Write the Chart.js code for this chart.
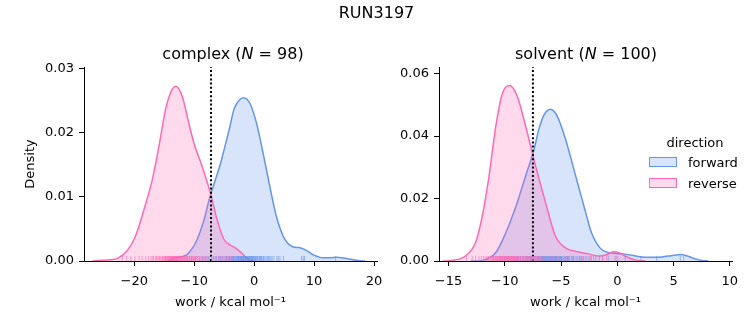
<!DOCTYPE html>
<html>
<head>
<meta charset="utf-8">
<script src="https://cdn.jsdelivr.net/npm/chart.js@4.4.1/dist/chart.umd.min.js"></script>
<style>
  html, body { margin: 0; padding: 0; background: #fff; }
  #fig { position: relative; width: 753px; height: 325px; overflow: hidden;
         font-family: "DejaVu Sans", sans-serif; color: #000; }
  #fig canvas { position: absolute; left: 0; top: 0; }
  .txt { position: absolute; white-space: nowrap; }
  .ttl { font-size: 16px; line-height: 16px; transform: translateX(-50%); }
  .leg { font-size: 13px; line-height: 13px; }
  .patch { position: absolute; width: 26px; height: 8px; border: 1px solid; }
</style>
</head>
<body>
<div id="fig">
  <canvas id="complexCanvas" width="753" height="325"></canvas>
  <canvas id="solventCanvas" width="753" height="325"></canvas>
  <div class="txt ttl" style="left:376.5px; top:5px;">RUN3197</div>
  <div class="txt ttl" style="left:233px; top:46px;">complex (<i>N</i> = 98)</div>
  <div class="txt ttl" style="left:586px; top:46px;">solvent (<i>N</i> = 100)</div>
  <div class="txt leg" style="left:695px; top:135.5px; transform:translateX(-50%);">direction</div>
  <div class="patch" style="left:649px; top:157px; border-color:#6495ED; background:rgba(100,149,237,0.25);"></div>
  <div class="txt leg" style="left:688px; top:155.5px;">forward</div>
  <div class="patch" style="left:649px; top:178px; border-color:#FF69B4; background:rgba(255,105,180,0.25);"></div>
  <div class="txt leg" style="left:688px; top:176.5px;">reverse</div>
</div>
<script>
// ---- density curves (work in kcal/mol, density) ----
const complexForwardX = [-14.5, -13.4, -12.0, -11.2, -10.3, -9.5, -8.5, -7.3, -6.5, -5.6, -4.5, -4.05, -3.4, -2.9, -1.8, -0.7, 0.4, 1.5, 2.6, 3.7, 5.1, 6.5, 7.4, 8.2, 9.0, 9.8, 11.5, 12.6, 13.7, 15.4, 17.6, 18.5];
const complexForwardY = [0.0, 0.0004, 0.0007, 0.0010, 0.0020, 0.0034, 0.0060, 0.0103, 0.0126, 0.0153, 0.0193, 0.0210, 0.0236, 0.0246, 0.0255, 0.0246, 0.0215, 0.0168, 0.0117, 0.0070, 0.0034, 0.0022, 0.0021, 0.0019, 0.0015, 0.0010, 0.0005, 0.0005, 0.0006, 0.0004, 0.00005, 0.0];

const complexReverseX = [-27.0, -25.5, -24.0, -22.8, -21.2, -19.8, -18.4, -17.0, -15.9, -14.8, -13.9, -13.1, -12.0, -10.9, -10.05, -8.7, -7.3, -6.2, -5.05, -4.0, -3.2, -2.4, -1.5, -1.0, 0.0];
const complexReverseY = [0.0, 0.0001, 0.0002, 0.0004, 0.0016, 0.0039, 0.0080, 0.0127, 0.0179, 0.0236, 0.0264, 0.0273, 0.0257, 0.0215, 0.0184, 0.0148, 0.0106, 0.0065, 0.0034, 0.0025, 0.0021, 0.0015, 0.0007, 0.0003, 0.0];

const solventForwardX = [-13.0, -12.0, -10.8, -9.9, -9.0, -8.15, -7.4, -6.97, -6.52, -5.95, -5.34, -4.6, -3.7, -2.8, -2.3, -1.54, -0.8, -0.1, 0.7, 2.2, 3.0, 3.95, 4.8, 5.6, 6.3, 6.9, 7.5, 8.1];
const solventForwardY = [0.0, 0.0002, 0.0027, 0.0091, 0.0176, 0.0272, 0.0357, 0.0422, 0.0467, 0.0486, 0.0464, 0.0390, 0.0272, 0.0154, 0.0091, 0.0042, 0.0027, 0.0024, 0.0022, 0.0013, 0.0012, 0.0013, 0.0017, 0.0021, 0.0015, 0.0007, 0.0002, 0.0];

const solventReverseX = [-15.5, -14.7, -13.5, -12.6, -12.0, -11.4, -10.8, -10.2, -9.57, -8.9, -8.15, -7.26, -6.37, -5.5, -4.6, -3.4, -2.5, -1.7, -0.9, -0.35, 0.2, 0.7, 1.6, 2.5];
const solventReverseY = [0.0, 0.0002, 0.0016, 0.0059, 0.0144, 0.0272, 0.0432, 0.0538, 0.0562, 0.0528, 0.0432, 0.0304, 0.0186, 0.0080, 0.0042, 0.0029, 0.0022, 0.0016, 0.0021, 0.0030, 0.0026, 0.0016, 0.0003, 0.0];

// ---- individual work values (rug) ----
const complexForwardWork = [
  -11.2, -10.5, -9.8, -9.1, -8.6, -8.0, -7.6, -7.1, -6.8, -6.5,
  -6.3, -6.0, -5.8, -5.6, -5.4, -5.2, -5.0, -4.8, -4.6, -4.5,
  -4.3, -4.1, -4.0, -3.8, -3.7, -3.6, -3.5, -3.4, -3.3, -3.1,
  -3.0, -2.9, -2.8, -2.7, -2.65, -2.6, -2.5, -2.4, -2.3, -2.2,
  -2.15, -2.1, -2.0, -1.9, -1.85, -1.8, -1.7, -1.6, -1.5, -1.45,
  -1.4, -1.3, -1.2, -1.1, -1.05, -1.0, -0.9, -0.8, -0.75, -0.7,
  -0.6, -0.5, -0.4, -0.35, -0.3, -0.2, -0.1, 0.0, 0.1, 0.2,
  0.3, 0.45, 0.5, 0.6, 0.8, 0.9, 1.0, 1.1, 1.2, 1.3,
  1.5, 1.6, 1.8, 2.0, 2.2, 2.4, 2.6, 2.8, 3.0, 3.3,
  3.8, 4.0, 4.3, 4.9, 7.9, 8.2, 8.4, 13.6
];
const complexReverseWork = [
  -22.0, -21.3, -20.6, -19.9, -19.2, -18.7, -18.1, -17.6, -17.2, -17.0,
  -16.8, -16.5, -16.3, -16.1, -15.9, -15.8, -15.6, -15.4, -15.3, -15.1,
  -15.0, -14.9, -14.8, -14.7, -14.6, -14.5, -14.4, -14.3, -14.2, -14.1,
  -14.0, -13.95, -13.9, -13.8, -13.7, -13.65, -13.6, -13.55, -13.5, -13.4,
  -13.35, -13.3, -13.25, -13.2, -13.1, -13.05, -13.0, -12.95, -12.9, -12.8,
  -12.75, -12.7, -12.6, -12.5, -12.45, -12.4, -12.3, -12.2, -12.1, -12.0,
  -11.95, -11.8, -11.7, -11.6, -11.5, -11.4, -11.3, -11.2, -11.1, -10.9,
  -10.8, -10.7, -10.5, -10.4, -10.3, -10.1, -10.0, -9.9, -9.7, -9.5,
  -9.4, -9.2, -8.9, -8.7, -8.4, -8.3, -8.1, -7.8, -7.5, -7.1,
  -6.8, -6.4, -5.9, -5.3, -4.6, -4.2, -3.9, -3.5
];
const solventForwardWork = [
  -11.0, -10.4, -10.0, -9.7, -9.4, -9.2, -9.0, -8.9, -8.8, -8.6,
  -8.4, -8.3, -8.2, -8.1, -8.0, -7.9, -7.8, -7.7, -7.65, -7.6,
  -7.5, -7.4, -7.3, -7.2, -7.1, -7.05, -7.0, -6.95, -6.9, -6.8,
  -6.75, -6.7, -6.65, -6.6, -6.55, -6.5, -6.45, -6.4, -6.35, -6.3,
  -6.25, -6.2, -6.15, -6.1, -6.05, -6.0, -5.95, -5.9, -5.85, -5.8,
  -5.75, -5.7, -5.65, -5.6, -5.55, -5.5, -5.45, -5.4, -5.35, -5.3,
  -5.2, -5.15, -5.1, -5.05, -5.0, -4.95, -4.9, -4.8, -4.7, -4.6,
  -4.55, -4.45, -4.4, -4.35, -4.25, -4.1, -4.0, -3.9, -3.75, -3.6,
  -3.5, -3.35, -3.3, -3.2, -3.0, -2.85, -2.7, -2.5, -2.3, -2.1,
  -1.9, -1.6, -1.3, -0.8, -0.1, 0.7, 2.1, 3.5, 5.6, 5.9
];
const solventReverseWork = [
  -13.4, -12.9, -12.6, -12.3, -12.1, -11.9, -11.75, -11.6, -11.5, -11.45,
  -11.3, -11.2, -11.1, -11.0, -10.9, -10.85, -10.8, -10.75, -10.7, -10.65,
  -10.6, -10.55, -10.5, -10.45, -10.4, -10.35, -10.3, -10.25, -10.2, -10.2,
  -10.15, -10.1, -10.05, -10.0, -9.95, -9.9, -9.85, -9.8, -9.75, -9.75,
  -9.7, -9.65, -9.65, -9.6, -9.55, -9.5, -9.45, -9.4, -9.35, -9.3,
  -9.3, -9.25, -9.2, -9.15, -9.1, -9.05, -9.0, -8.95, -8.9, -8.85,
  -8.8, -8.75, -8.7, -8.6, -8.5, -8.45, -8.4, -8.3, -8.2, -8.1,
  -8.05, -8.0, -7.9, -7.8, -7.7, -7.65, -7.6, -7.5, -7.4, -7.35,
  -7.3, -7.2, -7.0, -6.9, -6.8, -6.6, -6.4, -6.2, -6.0, -5.8,
  -5.5, -5.2, -4.5, -3.9, -3.1, -2.4, -1.3, -0.95, -0.2, 0.06
];

// ---- reference free energy marks (dotted lines) ----
const complexMarker = -7.2;
const solventMarker = -7.5;

// ---- axis ticks and limits ----
const complexXTicks = [-20, -10, 0, 10, 20];
const complexYTicks = [0, 0.01, 0.02, 0.03];
const solventXTicks = [-15, -10, -5, 0, 5, 10];
const solventYTicks = [0, 0.02, 0.04, 0.06];
const complexXRange = [-28.4, 20.5];
const complexYMax = 0.0303;
const solventXRange = [-15.85, 10.2];
const solventYMax = 0.0621;

const FWD = '#6495ED', REV = '#FF69B4';
const FWD_FILL = 'rgba(100,149,237,0.25)', REV_FILL = 'rgba(255,105,180,0.25)';
const FWD_RUG = 'rgba(100,149,237,0.6)', REV_RUG = 'rgba(255,105,180,0.6)';
const FONT = { family: '"DejaVu Sans", sans-serif', size: 13 };

const toPoints = (xs, ys) => xs.map((x, i) => ({ x: x, y: ys[i] }));
const minusSign = v => String(v).replace('-', '\u2212');

// short vertical ticks along the x axis for each work value
const rugPlugin = {
  id: 'rug',
  afterDatasetsDraw(chart, args, opts) {
    const ctx = chart.ctx, xs = chart.scales.x, bottom = chart.chartArea.bottom;
    ctx.save();
    ctx.lineWidth = 1;
    opts.sets.forEach(set => {
      ctx.strokeStyle = set.color;
      set.values.forEach(v => {
        const px = xs.getPixelForValue(v);
        ctx.beginPath();
        ctx.moveTo(px, bottom);
        ctx.lineTo(px, bottom - 5);
        ctx.stroke();
      });
    });
    ctx.restore();
  }
};

function makePanel(id, cfg) {
  const axisCommon = {
    border: { display: true, color: '#000', width: 1 },
    grid: { display: true, drawOnChartArea: false, drawTicks: true, tickLength: 5, color: '#000', lineWidth: 1 }
  };
  return new Chart(document.getElementById(id), {
    type: 'line',
    data: {
      datasets: [
        { data: [{ x: cfg.marker, y: 0 }, { x: cfg.marker, y: cfg.yMax }],
          borderColor: '#000', borderWidth: 2, borderDash: [2, 2.2], pointRadius: 0, fill: false },
        { data: toPoints(cfg.revX, cfg.revY), borderColor: REV, backgroundColor: REV_FILL,
          borderWidth: 1.5, pointRadius: 0, fill: 'origin', cubicInterpolationMode: 'monotone' },
        { data: toPoints(cfg.fwdX, cfg.fwdY), borderColor: FWD, backgroundColor: FWD_FILL,
          borderWidth: 1.5, pointRadius: 0, fill: 'origin', cubicInterpolationMode: 'monotone' }
      ]
    },
    options: {
      responsive: false,
      animation: false,
      devicePixelRatio: 1,
      layout: { padding: cfg.padding },
      plugins: {
        legend: { display: false },
        tooltip: { enabled: false },
        rug: { sets: [{ values: cfg.fwdWork, color: FWD_RUG }, { values: cfg.revWork, color: REV_RUG }] }
      },
      scales: {
        x: Object.assign({}, axisCommon, {
          type: 'linear', position: 'bottom',
          min: cfg.xRange[0], max: cfg.xRange[1],
          afterBuildTicks: s => { s.ticks = cfg.xTicks.map(v => ({ value: v })); },
          afterFit: s => { s.height = 64; },
          ticks: { font: FONT, color: '#000', padding: 8, maxRotation: 0, autoSkip: false,
                   callback: v => minusSign(v) },
          title: { display: true, text: 'work / kcal mol\u207B\u00B9', font: FONT, color: '#000',
                   padding: { top: 0, bottom: 15 } }
        }),
        y: Object.assign({}, axisCommon, {
          type: 'linear', position: 'left',
          min: 0, max: cfg.yMax,
          afterBuildTicks: s => { s.ticks = cfg.yTicks.map(v => ({ value: v })); },
          afterFit: s => { s.width = cfg.yWidth; },
          ticks: { font: FONT, color: '#000', padding: 5, autoSkip: false,
                   callback: v => v.toFixed(2) },
          title: { display: cfg.yTitle, text: 'Density', font: FONT, color: '#000',
                   padding: { top: 23, bottom: 0 } }
        })
      }
    },
    plugins: [rugPlugin]
  });
}

makePanel('complexCanvas', {
  fwdX: complexForwardX, fwdY: complexForwardY, revX: complexReverseX, revY: complexReverseY,
  fwdWork: complexForwardWork, revWork: complexReverseWork, marker: complexMarker,
  xTicks: complexXTicks, yTicks: complexYTicks, xRange: complexXRange, yMax: complexYMax,
  yWidth: 84, yTitle: true,
  padding: { left: 0, right: 753 - 377, top: 67, bottom: 0 }
});

makePanel('solventCanvas', {
  fwdX: solventForwardX, fwdY: solventForwardY, revX: solventReverseX, revY: solventReverseY,
  fwdWork: solventForwardWork, revWork: solventReverseWork, marker: solventMarker,
  xTicks: solventXTicks, yTicks: solventYTicks, xRange: solventXRange, yMax: solventYMax,
  yWidth: 50, yTitle: false,
  padding: { left: 439 - 50, right: 753 - 732, top: 67, bottom: 0 }
});
</script>
</body>
</html>
